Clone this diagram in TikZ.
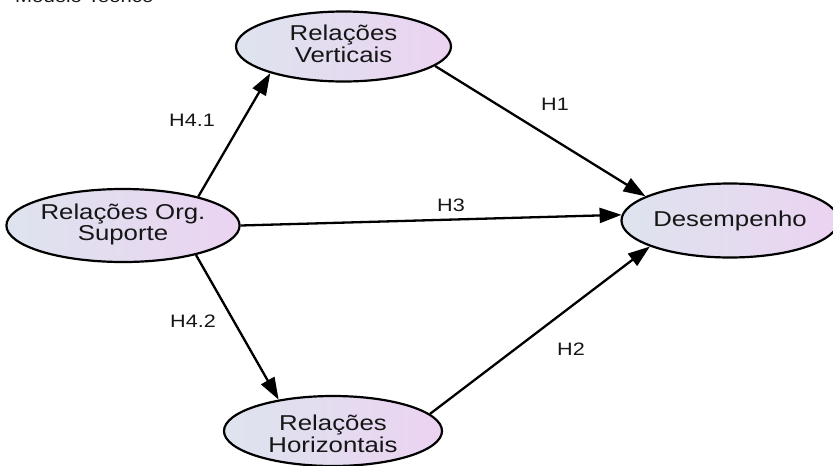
\documentclass[tikz,border=0pt]{standalone}
\usepackage{fontspec}
\setmainfont{Liberation Sans}
\usetikzlibrary{arrows.meta,shapes.geometric}
\definecolor{txtgray}{HTML}{161616}
\definecolor{fillL}{HTML}{DDE4EE}
\definecolor{fillR}{HTML}{EBD3F1}
\newcommand{\wtxt}[1]{\scalebox{1.2}[1]{#1}}
\newcommand{\twol}[2]{\wtxt{\begin{tabular}{@{}c@{}}#1\\#2\end{tabular}}}
\begin{document}
\begin{tikzpicture}[x=1pt,y=-1pt,
  construct/.style={ellipse, draw=black, line width=2.2pt, left color=fillL, right color=fillR,
    inner sep=0pt, text=txtgray, font=\fontsize{21.5}{21.5}\selectfont},
  rel/.style={line width=2.3pt, draw=black, -{Triangle[length=22pt,width=15pt]}},
  hlab/.style={font=\fontsize{18}{18}\selectfont, text=txtgray, inner sep=0pt}
]
\useasboundingbox (0,0) rectangle (833,466);
\begin{scope}
\clip (0,0) rectangle (833,466);
\node[anchor=base west, inner sep=0pt, text=txtgray, font=\fontsize{17}{17}\selectfont] (title) at (15,2.5) {\wtxt{Modelo Teórico}};

\node[construct, minimum width=218pt, minimum height=73pt] (org) at (123,225.5) {\twol{Relações Org.}{Suporte}};
\node[construct, minimum width=215pt, minimum height=70pt] (vert) at (343.5,46.5) {\twol{Relações}{Verticais}};
\node[construct, minimum width=204pt, minimum height=74pt] (des) at (730,220.5) {\wtxt{Desempenho}};
\node[construct, minimum width=218pt, minimum height=70pt] (hor) at (333,431) {\raisebox{-6pt}[\height][\depth]{\twol{Relações}{Horizontais}}};

\draw[rel] (org.21) -- (vert.200);
\draw[rel] (org.-22) -- (hor.150);
\draw[rel] (org.0) -- (des.177);
\draw[rel] (vert.-12) -- (des.164);
\draw[rel] (hor.10) -- (des.198);

\node[hlab] (h41) at (192,120.5) {\wtxt{H4.1}};
\node[hlab] (h3) at (451,205.5) {\wtxt{H3}};
\node[hlab] (h1) at (555,104) {\wtxt{H1}};
\node[hlab] (h42) at (193,321) {\wtxt{H4.2}};
\node[hlab] (h2) at (571,349.5) {\wtxt{H2}};
\end{scope}
\end{tikzpicture}
\end{document}
